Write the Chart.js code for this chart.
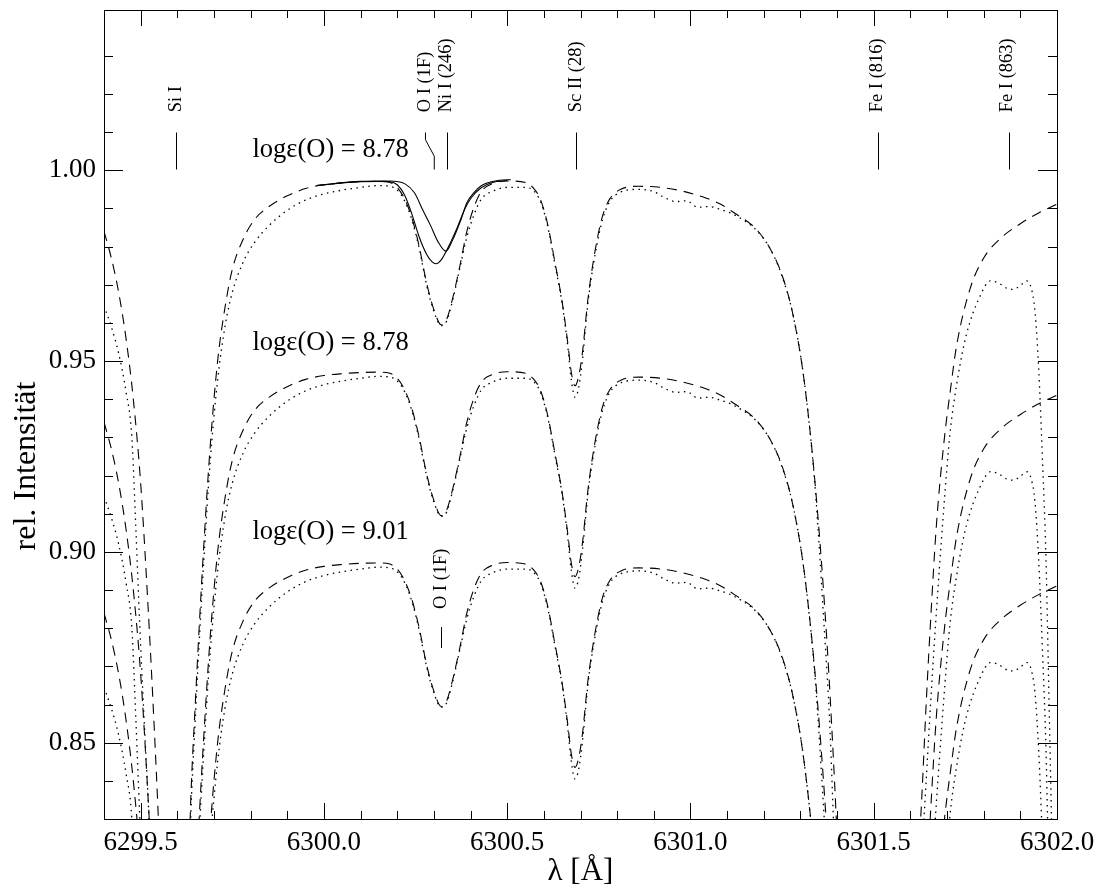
<!DOCTYPE html>
<html>
<head>
<meta charset="utf-8">
<script src="https://cdn.jsdelivr.net/npm/chart.js@4/dist/chart.umd.min.js"></script>
<style>
  body { margin: 0; background: #fff; }
  #wrap { width: 1099px; height: 886px; }
</style>
</head>
<body>
<div id="wrap"><canvas id="spec"></canvas></div>
<script>
// synthetic spectrum (dashed), top group
const synthWave = [6299.40, 6299.42, 6299.44, 6299.46, 6299.48, 6299.50, 6299.52, 6299.535, 6299.55, 6299.57, 6299.60,
  6299.62, 6299.635, 6299.65, 6299.67, 6299.69, 6299.71, 6299.73, 6299.75, 6299.78, 6299.81, 6299.85, 6299.90, 6299.95,
  6300.00, 6300.05, 6300.10, 6300.15, 6300.18, 6300.20, 6300.22, 6300.24, 6300.26, 6300.28, 6300.30, 6300.32, 6300.335,
  6300.35, 6300.37, 6300.39, 6300.41, 6300.43, 6300.46, 6300.50, 6300.55, 6300.57, 6300.59, 6300.61, 6300.63, 6300.65,
  6300.665, 6300.675, 6300.685, 6300.695, 6300.705, 6300.72, 6300.74, 6300.76, 6300.78, 6300.81, 6300.86, 6300.92,
  6300.98, 6301.04, 6301.08, 6301.12, 6301.18, 6301.22, 6301.25, 6301.28, 6301.31, 6301.34, 6301.37, 6301.385, 6301.40,
  6301.42, 6301.50, 6301.58, 6301.61, 6301.628, 6301.644, 6301.654, 6301.671, 6301.693, 6301.71, 6301.726, 6301.763,
  6301.80, 6301.85, 6301.90, 6301.95, 6302.00];
const synthFlux = [0.984, 0.977, 0.968, 0.956, 0.940, 0.918, 0.886, 0.858, 0.826, 0.77, 0.70,
  0.77, 0.83, 0.862, 0.898, 0.928, 0.950, 0.964, 0.974, 0.982, 0.987, 0.9905, 0.9933, 0.9952,
  0.9962, 0.9967, 0.9970, 0.9971, 0.9968, 0.9955, 0.9925, 0.9875, 0.980, 0.9705, 0.9635, 0.9595, 0.961,
  0.966, 0.9745, 0.984, 0.9905, 0.9945, 0.9965, 0.9972, 0.9968, 0.9955, 0.9925, 0.986, 0.976, 0.9655,
  0.955, 0.947, 0.9435, 0.946, 0.952, 0.966, 0.979, 0.988, 0.9925, 0.9950, 0.9958, 0.9955,
  0.9945, 0.9928, 0.9912, 0.9888, 0.9845, 0.979, 0.9725, 0.962, 0.945, 0.918, 0.880, 0.855, 0.825,
  0.77, 0.68, 0.77, 0.805, 0.83, 0.862, 0.880, 0.907, 0.930, 0.943, 0.954, 0.969,
  0.977, 0.9825, 0.986, 0.9888, 0.9911];

// observed spectrum (dotted), top group
const obsWave = [6299.40, 6299.42, 6299.44, 6299.46, 6299.476, 6299.487, 6299.497, 6299.51, 6299.523, 6299.54, 6299.60,
  6299.62, 6299.635, 6299.65, 6299.67, 6299.69, 6299.71, 6299.73, 6299.75, 6299.78, 6299.81, 6299.85, 6299.90, 6299.95,
  6300.00, 6300.05, 6300.10, 6300.15, 6300.18, 6300.20, 6300.22, 6300.24, 6300.26, 6300.28, 6300.30, 6300.32, 6300.335,
  6300.35, 6300.37, 6300.39, 6300.41, 6300.43, 6300.46, 6300.50, 6300.55, 6300.57, 6300.59, 6300.61, 6300.63, 6300.65,
  6300.665, 6300.675, 6300.685, 6300.695, 6300.705, 6300.72, 6300.74, 6300.76, 6300.78, 6300.81, 6300.86, 6300.90,
  6300.93, 6300.96, 6300.99, 6301.02, 6301.05, 6301.08, 6301.12, 6301.18, 6301.22, 6301.25, 6301.28, 6301.31, 6301.34,
  6301.365, 6301.38, 6301.39, 6301.41, 6301.50, 6301.58, 6301.62, 6301.637, 6301.655, 6301.668, 6301.69, 6301.708,
  6301.73, 6301.753, 6301.79, 6301.818, 6301.84, 6301.865, 6301.881, 6301.90, 6301.918, 6301.93, 6301.94, 6301.95,
  6301.96, 6301.97, 6301.978, 6301.985, 6301.995];
const obsFlux = [0.9645, 0.959, 0.952, 0.942, 0.930, 0.906, 0.882, 0.855, 0.830, 0.79, 0.70,
  0.77, 0.826, 0.858, 0.894, 0.924, 0.945, 0.959, 0.968, 0.976, 0.981, 0.9855, 0.9895, 0.9922,
  0.9938, 0.9948, 0.9955, 0.9960, 0.9958, 0.9948, 0.992, 0.987, 0.9795, 0.970, 0.963, 0.9593, 0.9605,
  0.9655, 0.974, 0.9825, 0.9885, 0.9925, 0.9945, 0.9955, 0.9955, 0.9948, 0.992, 0.9855, 0.9755, 0.965,
  0.954, 0.945, 0.9405, 0.943, 0.950, 0.965, 0.978, 0.987, 0.9918, 0.9943, 0.9950, 0.9944,
  0.9928, 0.9918, 0.9920, 0.9903, 0.9905, 0.9898, 0.9883, 0.9843, 0.979, 0.9722, 0.962, 0.945, 0.917,
  0.880, 0.855, 0.830, 0.78, 0.68, 0.76, 0.805, 0.83, 0.86, 0.880, 0.91, 0.931,
  0.946, 0.957, 0.967, 0.971, 0.9705, 0.969, 0.9688, 0.9698, 0.971, 0.969, 0.963, 0.948,
  0.925, 0.898, 0.862, 0.83, 0.78];

// solid model profiles around O I / Ni I, top group only
const solidWaveA = [6299.98, 6300.05, 6300.10, 6300.15, 6300.18, 6300.20, 6300.22, 6300.24, 6300.26, 6300.28,
  6300.295, 6300.306, 6300.32, 6300.34, 6300.365, 6300.385, 6300.402, 6300.43, 6300.46, 6300.50];
const solidFluxA = [0.9960, 0.9967, 0.9970, 0.9971, 0.9970, 0.9962, 0.9935, 0.9885, 0.9825, 0.978,
  0.9760, 0.9755, 0.9765, 0.9800, 0.9853, 0.9900, 0.9928, 0.9955, 0.9968, 0.9973];
const solidWaveB = [6299.98, 6300.10, 6300.18, 6300.22, 6300.247, 6300.27, 6300.292, 6300.31, 6300.333, 6300.35,
  6300.374, 6300.39, 6300.41, 6300.43, 6300.457, 6300.50, 6300.51];
const solidFluxB = [0.9960, 0.9971, 0.9972, 0.9965, 0.9941, 0.9895, 0.9853, 0.9815, 0.9788, 0.9815,
  0.9871, 0.9915, 0.9942, 0.9960, 0.9970, 0.9975, 0.9975];

// vertical shift of each group
const groupOffsets = [0, -0.05, -0.10];
const groupLabels = ["logε(O) = 8.78", "logε(O) = 8.78", "logε(O) = 9.01"];
const groupLabelY = [1.0052, 0.9548, 0.9053];

// line identifications at the top
const lineNames = ["Si I", "O I (1F)", "Ni I (246)", "Sc II (28)", "Fe I (816)", "Fe I (863)"];
const lineLabelX = [6299.596, 6300.277, 6300.333, 6300.687, 6301.510, 6301.865];
const markWave = [6299.596, 6300.336, 6300.687, 6301.513, 6301.869];

const xTickMajor = [6299.5, 6300.0, 6300.5, 6301.0, 6301.5, 6302.0];
const yTickMajor = [0.85, 0.90, 0.95, 1.00];

function pts(wave, flux, off) {
    return wave.map((w, i) => ({ x: w, y: flux[i] + off }));
}

let datasets = [];
groupOffsets.forEach(off => {
    datasets.push({
        data: pts(synthWave, synthFlux, off),
        borderColor: "#000", borderWidth: 1.1, borderDash: [10, 7],
        pointRadius: 0, cubicInterpolationMode: "monotone"
    });
    datasets.push({
        data: pts(obsWave, obsFlux, off),
        borderColor: "#000", borderWidth: 1.3, borderDash: [1.5, 4.5],
        pointRadius: 0, cubicInterpolationMode: "monotone"
    });
});
datasets.push({
    data: pts(solidWaveA, solidFluxA, 0),
    borderColor: "#000", borderWidth: 1.1, pointRadius: 0, cubicInterpolationMode: "monotone"
});
datasets.push({
    data: pts(solidWaveB, solidFluxB, 0),
    borderColor: "#000", borderWidth: 1.1, pointRadius: 0, cubicInterpolationMode: "monotone"
});

const serif = "'Liberation Serif', 'DejaVu Serif', serif";

function isStep(v, step) {
    let k = v / step;
    return Math.abs(k - Math.round(k)) < 1e-6;
}

function noPad(s) {
    s.paddingTop = 0; s.paddingBottom = 0; s.paddingLeft = 0; s.paddingRight = 0;
}

// inward tick marks on all four sides, titles and annotations
const decorPlugin = {
    id: "decor",
    afterDatasetsDraw(chart) {
        const ctx = chart.ctx;
        const a = chart.chartArea;
        const xs = chart.scales.x;
        const ys = chart.scales.y;
        ctx.save();
        ctx.strokeStyle = "#000";
        ctx.lineWidth = 1;
        ctx.beginPath();
        xs.ticks.forEach(t => {
            if (!isStep(t.value, 0.1)) return;
            let len = isStep(t.value, 0.5) ? 16 : 8;
            let px = Math.round(xs.getPixelForValue(t.value)) + 0.5;
            ctx.moveTo(px, a.bottom); ctx.lineTo(px, a.bottom - len);
            ctx.moveTo(px, a.top); ctx.lineTo(px, a.top + len);
        });
        ys.ticks.forEach(t => {
            if (!isStep(t.value, 0.01)) return;
            let len = isStep(t.value, 0.05) ? 19 : 9;
            let py = Math.round(ys.getPixelForValue(t.value)) + 0.5;
            ctx.moveTo(a.left, py); ctx.lineTo(a.left + len, py);
            ctx.moveTo(a.right, py); ctx.lineTo(a.right - len, py);
        });
        ctx.stroke();

        // identification markers
        ctx.beginPath();
        markWave.forEach(w => {
            let px = Math.round(xs.getPixelForValue(w)) + 0.5;
            ctx.moveTo(px, ys.getPixelForValue(1.0002));
            ctx.lineTo(px, ys.getPixelForValue(1.0099));
        });
        // bent leader for O I
        ctx.moveTo(xs.getPixelForValue(6300.277), ys.getPixelForValue(1.0099));
        ctx.lineTo(xs.getPixelForValue(6300.277), ys.getPixelForValue(1.0080));
        ctx.lineTo(xs.getPixelForValue(6300.301), ys.getPixelForValue(1.0037));
        ctx.lineTo(xs.getPixelForValue(6300.301), ys.getPixelForValue(1.0002));
        // lower O I marker
        let lx = Math.round(xs.getPixelForValue(6300.320)) + 0.5;
        ctx.moveTo(lx, ys.getPixelForValue(0.8803));
        ctx.lineTo(lx, ys.getPixelForValue(0.8748));
        ctx.stroke();

        ctx.fillStyle = "#000";
        ctx.font = "18.5px " + serif;
        ctx.textAlign = "left";
        ctx.textBaseline = "middle";
        lineNames.forEach((name, i) => {
            ctx.save();
            ctx.translate(xs.getPixelForValue(lineLabelX[i]), ys.getPixelForValue(1.0152));
            ctx.rotate(-Math.PI / 2);
            ctx.fillText(name, 0, 0);
            ctx.restore();
        });
        ctx.save();
        ctx.translate(xs.getPixelForValue(6300.320), ys.getPixelForValue(0.8850));
        ctx.rotate(-Math.PI / 2);
        ctx.fillText("O I (1F)", 0, 0);
        ctx.restore();

        ctx.font = "26.5px " + serif;
        groupLabels.forEach((txt, i) => {
            ctx.fillText(txt, xs.getPixelForValue(6299.805), ys.getPixelForValue(groupLabelY[i]));
        });

        // axis titles
        ctx.textAlign = "center";
        ctx.font = "31px " + serif;
        ctx.fillText("λ [Å]", (a.left + a.right) / 2, 872);
        ctx.save();
        ctx.translate(27, 466);
        ctx.rotate(-Math.PI / 2);
        ctx.font = "32px " + serif;
        ctx.fillText("rel. Intensität", 0, 0);
        ctx.restore();
        ctx.restore();
    }
};

new Chart(document.getElementById("spec"), {
    type: "line",
    data: { datasets: datasets },
    options: {
        responsive: true,
        maintainAspectRatio: false,
        animation: false,
        layout: { padding: 0 },
        plugins: { legend: { display: false }, tooltip: { enabled: false } },
        scales: {
            x: {
                type: "linear", position: "bottom", min: 6299.4, max: 6302.0,
                grid: { display: false, drawTicks: false },
                border: { display: true, color: "#000", width: 1 },
                ticks: {
                    stepSize: 0.1, autoSkip: false, maxRotation: 0, padding: 8,
                    color: "#000", font: { family: serif, size: 27 },
                    callback: v => xTickMajor.some(m => Math.abs(m - v) < 1e-6) ? v.toFixed(1) : ""
                },
                afterFit: s => { s.height = 67; noPad(s); }
            },
            x2: {
                type: "linear", position: "top", min: 6299.4, max: 6302.0,
                grid: { display: false, drawTicks: false },
                border: { display: true, color: "#000", width: 1 },
                ticks: { display: false },
                afterFit: s => { s.height = 10; noPad(s); }
            },
            y: {
                type: "linear", position: "left", min: 0.83, max: 1.042,
                grid: { display: false, drawTicks: false },
                border: { display: true, color: "#000", width: 1 },
                ticks: {
                    stepSize: 0.01, autoSkip: false, padding: 8,
                    color: "#000", font: { family: serif, size: 27 },
                    callback: v => yTickMajor.some(m => Math.abs(m - v) < 1e-6) ? v.toFixed(2) : ""
                },
                afterFit: s => { s.width = 104; noPad(s); }
            },
            y2: {
                type: "linear", position: "right", min: 0.83, max: 1.042,
                grid: { display: false, drawTicks: false },
                border: { display: true, color: "#000", width: 1 },
                ticks: { display: false },
                afterFit: s => { s.width = 42; noPad(s); }
            }
        }
    },
    plugins: [decorPlugin]
});
</script>
</body>
</html>
